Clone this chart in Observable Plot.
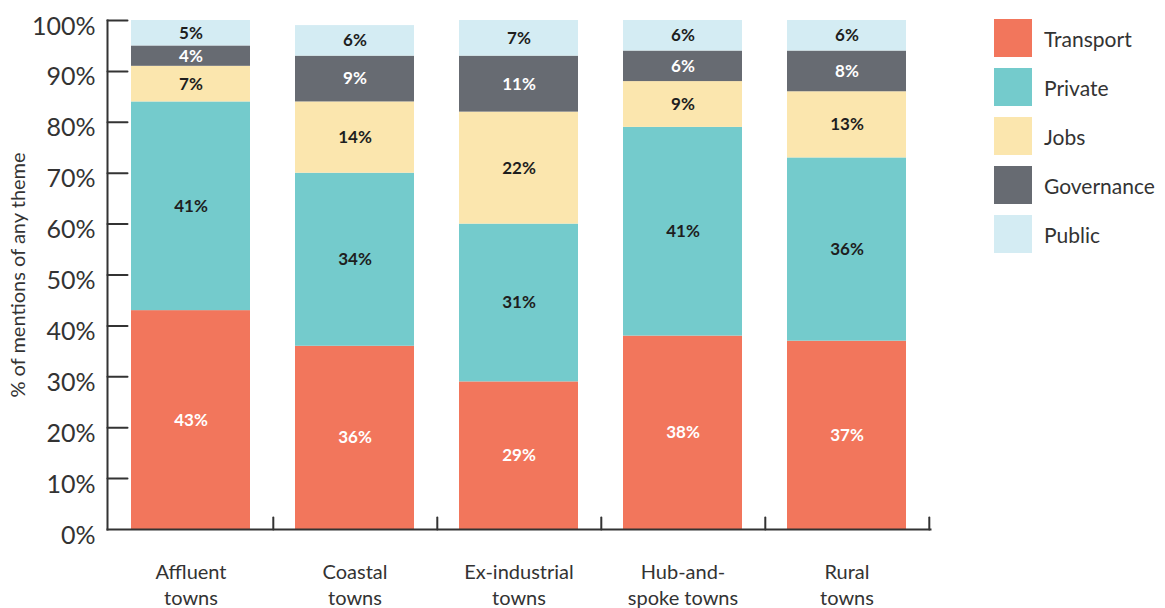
<!DOCTYPE html>
<html><head><meta charset="utf-8">
<script src="https://cdn.jsdelivr.net/npm/d3@7"></script>
<script src="https://cdn.jsdelivr.net/npm/@observablehq/plot@0.6"></script>
<style>
body{margin:0;background:#fff;font-family:Lato,"Noto Sans",sans-serif}
#wrap{position:relative;width:1165px;height:608px;overflow:hidden}
#legend{position:absolute;left:994px;top:19px}
.item{display:flex;align-items:center;height:38px;margin-bottom:11px}
.sw{width:38px;height:38px;margin-right:12px;flex:none}
.lab{font-size:21px;color:#333;font-weight:400;white-space:nowrap}
</style></head><body>
<div id="wrap"><div id="chart"></div><div id="legend"></div></div>
<script>
// ---- data ----
const towns = ["Affluent towns", "Coastal towns", "Ex-industrial towns", "Hub-and-spoke towns", "Rural towns"];
const townLabels = ["Affluent\ntowns", "Coastal\ntowns", "Ex-industrial\ntowns", "Hub-and-\nspoke towns", "Rural\ntowns"];
const themes = ["Transport", "Private", "Jobs", "Governance", "Public"];
const transport  = [43, 36, 29, 38, 37];
const privateS   = [41, 34, 31, 41, 36];
const jobs       = [7, 14, 22, 9, 13];
const governance = [4, 9, 11, 6, 8];
const publicS    = [5, 6, 7, 6, 6];
const yTicks = [0, 10, 20, 30, 40, 50, 60, 70, 80, 90, 100];
const yLabel = "% of mentions of any theme";

// ---- styles ----
const colors = ["#F2765C", "#74CBCC", "#FBE6AE", "#676B72", "#D4ECF3"];
const whiteLabel = [true, false, false, true, false];
const ink = "#333";

const series = [transport, privateS, jobs, governance, publicS];
const rows = towns.flatMap((t, i) => themes.map((th, j) => ({town: t, theme: th, value: series[j][i], j})));

const W = 1165, H = 608, ml = 107, mr = 235, mt = 20, mb = 79;
const step = (W - ml - mr) / towns.length;
const line = {draw(ctx, l) { ctx.moveTo(0, 0); ctx.lineTo(0, -l); }};

const chart = Plot.plot({
  width: W, height: H,
  marginLeft: ml, marginRight: mr, marginTop: mt, marginBottom: mb,
  style: {fontFamily: "Lato, 'Noto Sans', sans-serif", color: ink, background: "#fff"},
  x: {domain: towns, paddingInner: 0.277, paddingOuter: 0.1385, label: null},
  y: {domain: [0, 100], label: null},
  color: {domain: themes, range: colors},
  marks: [
    Plot.barY(rows, {x: "town", y: "value", fill: "theme"}),
    Plot.text(rows, Plot.stackY({x: "town", y: "value", z: "theme",
      text: d => whiteLabel[d.j] ? d.value + "%" : "", fill: "#fff", fontWeight: "bold", fontSize: 17})),
    Plot.text(rows, Plot.stackY({x: "town", y: "value", z: "theme",
      text: d => whiteLabel[d.j] ? "" : d.value + "%", fill: "#1e1e1e", fontWeight: "bold", fontSize: 17})),
    Plot.frame({anchor: "left", stroke: ink, strokeWidth: 2}),
    Plot.frame({anchor: "bottom", stroke: ink, strokeWidth: 2}),
    Plot.vector(yTicks.slice(1), {y: d => d, frameAnchor: "left", rotate: 90, length: 20, anchor: "start", shape: line, stroke: ink, strokeWidth: 2}),
    Plot.vector(towns, {x: d => d, y: 0, dx: step / 2, rotate: 0, length: 12, anchor: "start", shape: line, stroke: ink, strokeWidth: 2}),
    Plot.axisY({ticks: yTicks, tickSize: 0, tickPadding: 12, dy: 6, tickFormat: d => d + "%", fontSize: 25, fontWeight: 400, fill: ink, label: null}),
    Plot.axisX({tickSize: 0, tickPadding: 31, tickFormat: d => townLabels[towns.indexOf(d)], fontSize: 20, fontWeight: 400, fill: ink, lineHeight: 1.3, label: null}),
    Plot.text([yLabel], {text: d => d, frameAnchor: "left", textAnchor: "middle", rotate: -90, dx: -89, fontSize: 20, fontWeight: 400, fill: ink})
  ]
});
document.getElementById("chart").appendChild(chart);

const legend = document.getElementById("legend");
themes.forEach((th, j) => {
  const it = document.createElement("div"); it.className = "item";
  const sw = document.createElement("div"); sw.className = "sw"; sw.style.background = colors[j];
  const lb = document.createElement("div"); lb.className = "lab"; lb.textContent = th;
  it.appendChild(sw); it.appendChild(lb); legend.appendChild(it);
});
</script>
</body></html>
